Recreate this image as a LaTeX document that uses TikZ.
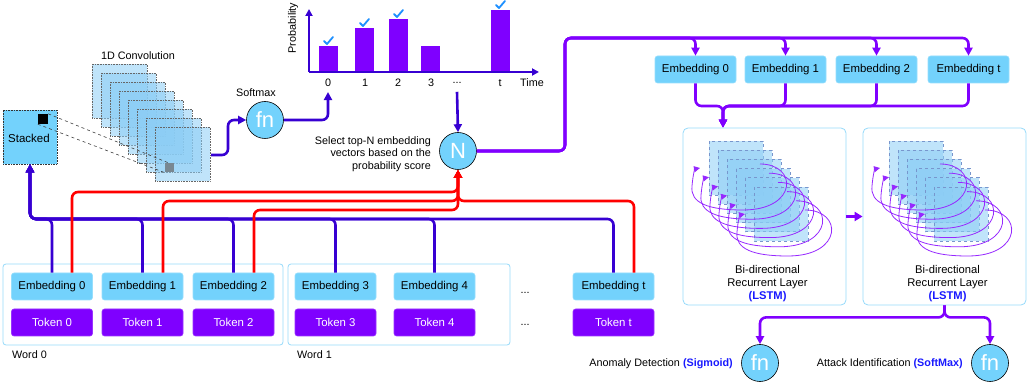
\documentclass[tikz,border=0pt]{standalone}
\usepackage{fontspec}
\setmainfont{Liberation Sans}
\usetikzlibrary{arrows.meta,calc}

\definecolor{skyfill}{RGB}{115,210,252}
\definecolor{skyedge}{RGB}{150,222,252}
\definecolor{tokfill}{RGB}{127,0,255}
\definecolor{busblue}{RGB}{55,0,210}
\definecolor{busred}{RGB}{255,0,0}
\definecolor{vio}{RGB}{128,0,255}
\definecolor{loopvio}{RGB}{150,40,255}
\definecolor{framec}{RGB}{150,218,250}
\definecolor{lstmtxt}{RGB}{25,25,255}
\definecolor{tickc}{RGB}{30,144,255}
\definecolor{convfill}{RGB}{140,205,245}
\definecolor{sqedge}{RGB}{120,150,205}

\tikzset{
  txt/.style={font=\fontsize{10.8}{13}\selectfont, inner sep=0pt},
  emb/.style={rectangle, rounded corners=2.5pt, fill=skyfill, draw=skyedge, line width=0.6pt,
    minimum width=81pt, minimum height=27pt, inner sep=0pt, font=\fontsize{11.4}{13}\selectfont},
  tok/.style={emb, fill=tokfill, draw=tokfill!80!white, text=white},
  wordbox/.style={rectangle, rounded corners=3pt, draw=framec, line width=0.8pt, inner sep=0pt},
  fncirc/.style={circle, fill=skyfill, draw=black, line width=0.6pt, minimum size=37pt, inner sep=0pt,
    text=white, font=\fontsize{22}{22}\selectfont},
  wire/.style={line width=2.6pt, rounded corners=6pt},
  arr/.style={-{Triangle[length=8pt,width=8pt]}},
  convsq/.style={fill=convfill, fill opacity=0.55, draw=gray!80!black, densely dotted, line width=0.6pt},
  lstmsq/.style={fill=convfill, fill opacity=0.55, draw=sqedge, dashed, line width=0.8pt},
  recur/.style={loopvio, line width=0.8pt, -{Triangle[length=6pt,width=6pt]}},
  tickmark/.style={tickc, line width=1.8pt, line cap=round, line join=round},
}

\begin{document}
\begin{tikzpicture}[x=1pt,y=-1pt]
\useasboundingbox (0,0) rectangle (1034,387);

% ---------------- word groups: embeddings and tokens ----------------
\node[wordbox, minimum width=280pt, minimum height=81pt] (w0) at (143,304.5) {};
\node[wordbox, minimum width=222pt, minimum height=81pt] (w1) at (399,304.5) {};
\node[txt, anchor=west] (w0l) at (12,355) {Word 0};
\node[txt, anchor=west] (w1l) at (297,355) {Word 1};

\node[emb] (e0) at (52,286.5) {Embedding 0};
\node[emb] (e1) at (142.5,286.5) {Embedding 1};
\node[emb] (e2) at (233.5,286.5) {Embedding 2};
\node[emb] (e3) at (335.5,286.5) {Embedding 3};
\node[emb] (e4) at (434.5,286.5) {Embedding 4};
\node[emb] (et) at (613.5,286.5) {Embedding t};

\node[tok] (k0) at (52,322.5) {Token 0};
\node[tok] (k1) at (142.5,322.5) {Token 1};
\node[tok] (k2) at (233.5,322.5) {Token 2};
\node[tok] (k3) at (335.5,322.5) {Token 3};
\node[tok] (k4) at (434.5,322.5) {Token 4};
\node[tok] (kt) at (613.5,322.5) {Token t};

\node[txt] (d1) at (525,293) {...};
\node[txt] (d2) at (525,325) {...};

% ---------------- stacked input and 1D convolution ----------------
\node[rectangle, fill=skyfill, draw=black!80, densely dotted, line width=0.6pt,
      minimum width=54pt, minimum height=54pt, inner sep=0pt] (stk) at (30,137) {};
\node[txt, font=\fontsize{11.5}{13}\selectfont] (stkl) at (29,138) {Stacked};
\node[fill=black, minimum size=10pt, inner sep=0pt] (blk) at (43,119) {};

\node[txt] (convl) at (138,56) {1D Convolution};
\foreach \i in {0,...,7}
  \filldraw[convsq] ({92+9*\i},{64+9*\i}) rectangle ++(55,54);
\node[fill={rgb,255:red,120;green,135;blue,145}, minimum size=9pt, inner sep=0pt] (gs) at (169.5,168) {};
\draw[dashed, line width=0.6pt, black!75] (blk.north east) -- (gs.north);
\draw[dashed, line width=0.6pt, black!75] (blk.south west) -- (gs.south west);

% ---------------- softmax ----------------
\node[fncirc] (sm) at (265,120) {fn};
\node[txt] (sml) at (256,93) {Softmax};
\coordinate (convout) at (211,155);
\draw[wire, busblue, arr] (convout) -- ++(17,0) |- (sm.west);

% ---------------- probability chart ----------------
\coordinate (orig) at (309,72);
\coordinate (ytop) at (309,9);
\coordinate (xend) at (539,72);
\fill[tokfill] (319,72) rectangle (338,46);
\fill[tokfill] (355,72) rectangle (374,28);
\fill[tokfill] (389,72) rectangle (408,19);
\fill[tokfill] (421,72) rectangle (440,46);
\fill[tokfill] (491,72) rectangle (510,10);
\draw[busblue, line width=2pt, -{Triangle[length=7pt,width=7pt]}] (orig) -- (ytop);
\draw[busblue, line width=2pt, -{Triangle[length=7pt,width=7pt]}] (orig) -- (xend);
\foreach \cx/\cy in {328/41, 364/23, 398/14, 500/5}
  \draw[tickmark] (\cx-4,\cy) -- (\cx-1,\cy+3) -- (\cx+5,\cy-4);
\node[txt, rotate=90] (ylab) at (293,28) {Probability};
\node[txt] (t0) at (328,83) {0};
\node[txt] (t1) at (365,83) {1};
\node[txt] (t2) at (398,83) {2};
\node[txt] (t3) at (431,83) {3};
\node[txt] (tdots) at (457,83) {...};
\node[txt] (tt) at (500,83) {t};
\node[txt] (ttime) at (532,83) {Time};

\draw[wire, busblue, arr] (sm.east) -| ([yshift=-5pt]t0.south);

% ---------------- top-N selection ----------------
\node[fncirc, minimum size=37pt] (nn) at (458,151) {N};
\node[txt, align=right, anchor=east, font=\fontsize{10.8}{12.6}\selectfont] (seltxt) at (431,154)
  {Select top-N embedding\\vectors based on the\\probability score};
\draw[wire, busblue, arr] ([yshift=-8pt]tdots.south) -- (nn.north);

% blue bus: embeddings back to the stacked block
\foreach \e in {e0,e1,e2,e3,e4,et}
  \draw[wire, busblue, arr] (\e.north) |- (30,219) -- (stk.south);

% red bus: selected embeddings into the selector
\draw[wire, busred, arr] ($(e0.north)+(20,0)$) |- (458,192) -- (nn.south);
\draw[wire, busred, arr] ($(e1.north)+(20.5,0)$) |- (458,201) -- (nn.south);
\draw[wire, busred, arr] ($(e2.north)+(20.5,0)$) |- (458,210) -- (nn.south);
\draw[wire, busred, arr] ($(et.north)+(20.5,0)$) |- (458,201) -- (nn.south);

% ---------------- selected embeddings ----------------
\node[emb] (ee0) at (695.5,69.5) {Embedding 0};
\node[emb] (ee1) at (785.5,69.5) {Embedding 1};
\node[emb] (ee2) at (876.5,69.5) {Embedding 2};
\node[emb] (eet) at (968.5,69.5) {Embedding t};

\foreach \t in {ee0,ee1,ee2,eet}
  \draw[wire, vio, arr] (nn.east) -| (565,38) -| (\t.north);

% ---------------- recurrent layers ----------------
\node[wordbox, rounded corners=5pt, minimum width=163pt, minimum height=177pt] (l1) at (764.5,216.5) {};
\node[wordbox, rounded corners=5pt, minimum width=163pt, minimum height=177pt] (l2) at (944.5,216.5) {};

\coordinate (m1) at (723,106);
\foreach \t in {ee0,ee1,ee2,eet}
  \draw[wire, vio, arr] (\t.south) |- (m1) -- (m1 |- l1.north);

\foreach \ox/\nm in {0/l1,180/l2} {
  % stacked time steps
  \foreach \i in {0,...,5}
    \filldraw[lstmsq] ({709+\ox+9*\i},{141+9.2*\i}) rectangle ++(54,54);
  % recurrent feedback loops
  \foreach \i in {0,...,5} {
    \pgfmathsetmacro{\ax}{698+\ox+9*\i}
    \pgfmathsetmacro{\ay}{168+9.2*\i}
    \draw[recur] (\ax+62,\ay-4) .. controls (\ax+100,\ay-4) and (\ax+100,\ay+42) .. (\ax+45,\ay+42)
      .. controls (\ax+10,\ay+42) and (\ax-8,\ay+35) .. (\ax-6,\ay+18)
      .. controls (\ax-5,\ay+6) and (\ax-3,\ay+1) .. (\ax+2,\ay);
  }
  \node[txt, align=center, font=\fontsize{11.2}{13}\selectfont] at ($(\nm.center)+(3,67)$)
    {Bi-directional\\Recurrent Layer\\\textcolor{lstmtxt}{\textbf{(LSTM)}}};
}

\draw[wire, vio, -{Triangle[length=8pt,width=9pt]}] (l1.east) -- (l2.west);

% ---------------- output heads ----------------
\node[fncirc] (fa) at (760,363) {fn};
\node[fncirc] (fb) at (990,363) {fn};
\draw[wire, vio, arr] (l2.south) -- ++(0,12) -| (fa.north);
\draw[wire, vio, arr] (l2.south) -- ++(0,12) -| (fb.north);
\node[txt, anchor=east] (fal) at (733,364) {Anomaly Detection \textcolor{lstmtxt}{\textbf{(Sigmoid)}}};
\node[txt, anchor=east] (fbl) at (963,364) {Attack Identification \textcolor{lstmtxt}{\textbf{(SoftMax)}}};

\end{tikzpicture}
\end{document}
